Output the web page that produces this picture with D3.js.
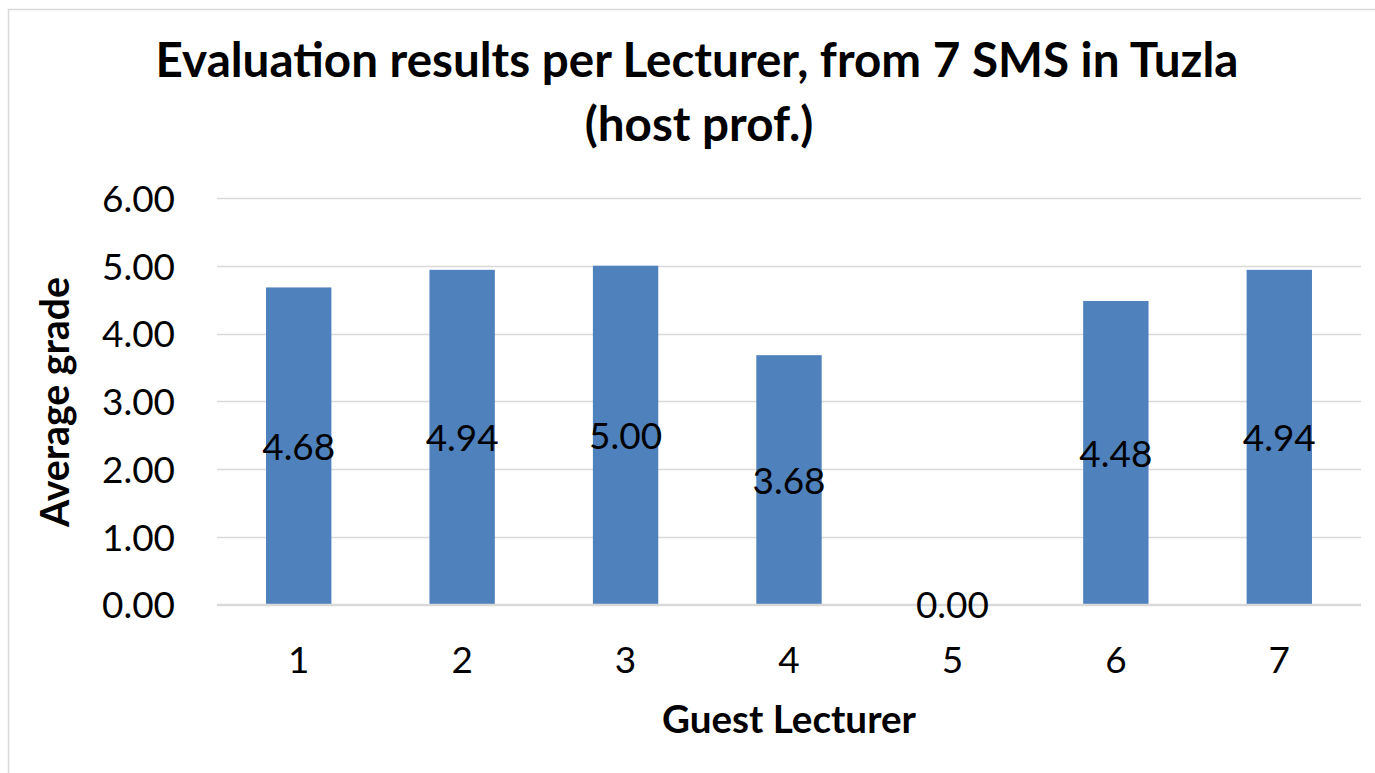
<!DOCTYPE html>
<html>
<head>
<meta charset="utf-8">
<script src="https://cdn.jsdelivr.net/npm/d3@7"></script>
<style>
  html, body { margin: 0; padding: 0; background: #fff; }
  svg { display: block; }
  text { font-family: Lato, "Open Sans", sans-serif; fill: #000; }
</style>
</head>
<body>
<svg id="chart" width="1375" height="773"></svg>
<script>
// ---- data ----
const categories = ["1", "2", "3", "4", "5", "6", "7"];
const values = [4.68, 4.94, 5.00, 3.68, 0.00, 4.48, 4.94];
const yTicks = [0, 1, 2, 3, 4, 5, 6];
const titleLines = ["Evaluation results per Lecturer, from 7 SMS in Tuzla", "(host prof.)"];
const xTitle = "Guest Lecturer";
const yTitle = "Average grade";

// ---- layout ----
const W = 1375, H = 773;
const plot = { left: 217, right: 1361, top: 198, bottom: 604.5 };
const svg = d3.select("#chart");

const x = d3.scaleBand().domain(categories).range([plot.left, plot.right])
  .paddingInner(0.6).paddingOuter(0.3);
const y = d3.scaleLinear().domain([0, 6]).range([plot.bottom, plot.top]);
const fmt = d3.format(".2f");

function fit(sel, target) {
  const base = parseFloat(sel.attr("font-size"));
  const w = sel.node().getComputedTextLength();
  const fs = base * target / w;
  sel.attr("font-size", fs);
  return fs;
}

// chart frame (partially visible)
svg.append("path")
  .attr("d", `M8.5,${H} V9.5 H${W}`)
  .attr("fill", "none").attr("stroke", "#d9d9d9").attr("stroke-width", 1.5);

// gridlines
svg.append("g").selectAll("line").data(yTicks.filter(d => d > 0)).join("line")
  .attr("x1", plot.left).attr("x2", plot.right)
  .attr("y1", d => Math.round(y(d)) + 0.5).attr("y2", d => Math.round(y(d)) + 0.5)
  .attr("stroke", "#d9d9d9").attr("stroke-width", 1.5);

// bars
svg.append("g").selectAll("rect").data(values).join("rect")
  .attr("x", (d, i) => x(categories[i]))
  .attr("width", x.bandwidth())
  .attr("y", d => y(d))
  .attr("height", d => y(0) - y(d))
  .attr("fill", "#4F81BD");

// x axis line
svg.append("line")
  .attr("x1", plot.left).attr("x2", plot.right)
  .attr("y1", y(0) + 0.5).attr("y2", y(0) + 0.5)
  .attr("stroke", "#d9d9d9").attr("stroke-width", 2.5);

// measure tick font size from "6.00" width
const probe = svg.append("text").attr("font-size", 40).text(fmt(6));
const tickFs = fit(probe, 73);
probe.remove();
const capH = tickFs * 0.70;

// y tick labels via axis
const yAxis = d3.axisLeft(y).tickValues(yTicks).tickFormat(fmt).tickSize(0).tickPadding(0);
const yg = svg.append("g").attr("transform", `translate(175,0)`).call(yAxis);
yg.select(".domain").remove();
yg.selectAll("text")
  .attr("font-size", tickFs).attr("font-family", "Lato, 'Open Sans', sans-serif")
  .attr("fill", "#000").attr("dy", null).attr("y", capH / 2 + 0.5);

// x tick labels via axis
const xAxis = d3.axisBottom(x).tickSize(0).tickPadding(0);
const xg = svg.append("g").attr("transform", `translate(0,673)`).call(xAxis);
xg.select(".domain").remove();
xg.selectAll("text")
  .attr("font-size", tickFs).attr("font-family", "Lato, 'Open Sans', sans-serif")
  .attr("fill", "#000").attr("dy", null).attr("y", 0);

// data labels (centered in bar)
svg.append("g").selectAll("text").data(values).join("text")
  .attr("x", (d, i) => x(categories[i]) + x.bandwidth() / 2)
  .attr("y", d => (y(0) + y(d)) / 2 + capH / 2 + 1)
  .attr("text-anchor", "middle")
  .attr("font-size", tickFs)
  .text(d => fmt(d));

// title
const t1 = svg.append("text").attr("font-size", 50).attr("font-weight", "bold")
  .attr("text-anchor", "middle").attr("x", 697).attr("y", 77).text(titleLines[0]);
const titleFs = fit(t1, 1083);
svg.append("text").attr("font-size", titleFs).attr("font-weight", "bold")
  .attr("text-anchor", "middle").attr("x", 699).attr("y", 141).text(titleLines[1]);

// x axis title
const xt = svg.append("text").attr("font-size", 36).attr("font-weight", "bold")
  .attr("text-anchor", "middle").attr("x", 789).attr("y", 733).text(xTitle);
fit(xt, 254);

// y axis title
const yt = svg.append("text").attr("font-size", 36).attr("font-weight", "bold")
  .attr("text-anchor", "middle")
  .attr("transform", "translate(69,402) rotate(-90)").text(yTitle);
fit(yt, 250);
</script>
</body>
</html>
